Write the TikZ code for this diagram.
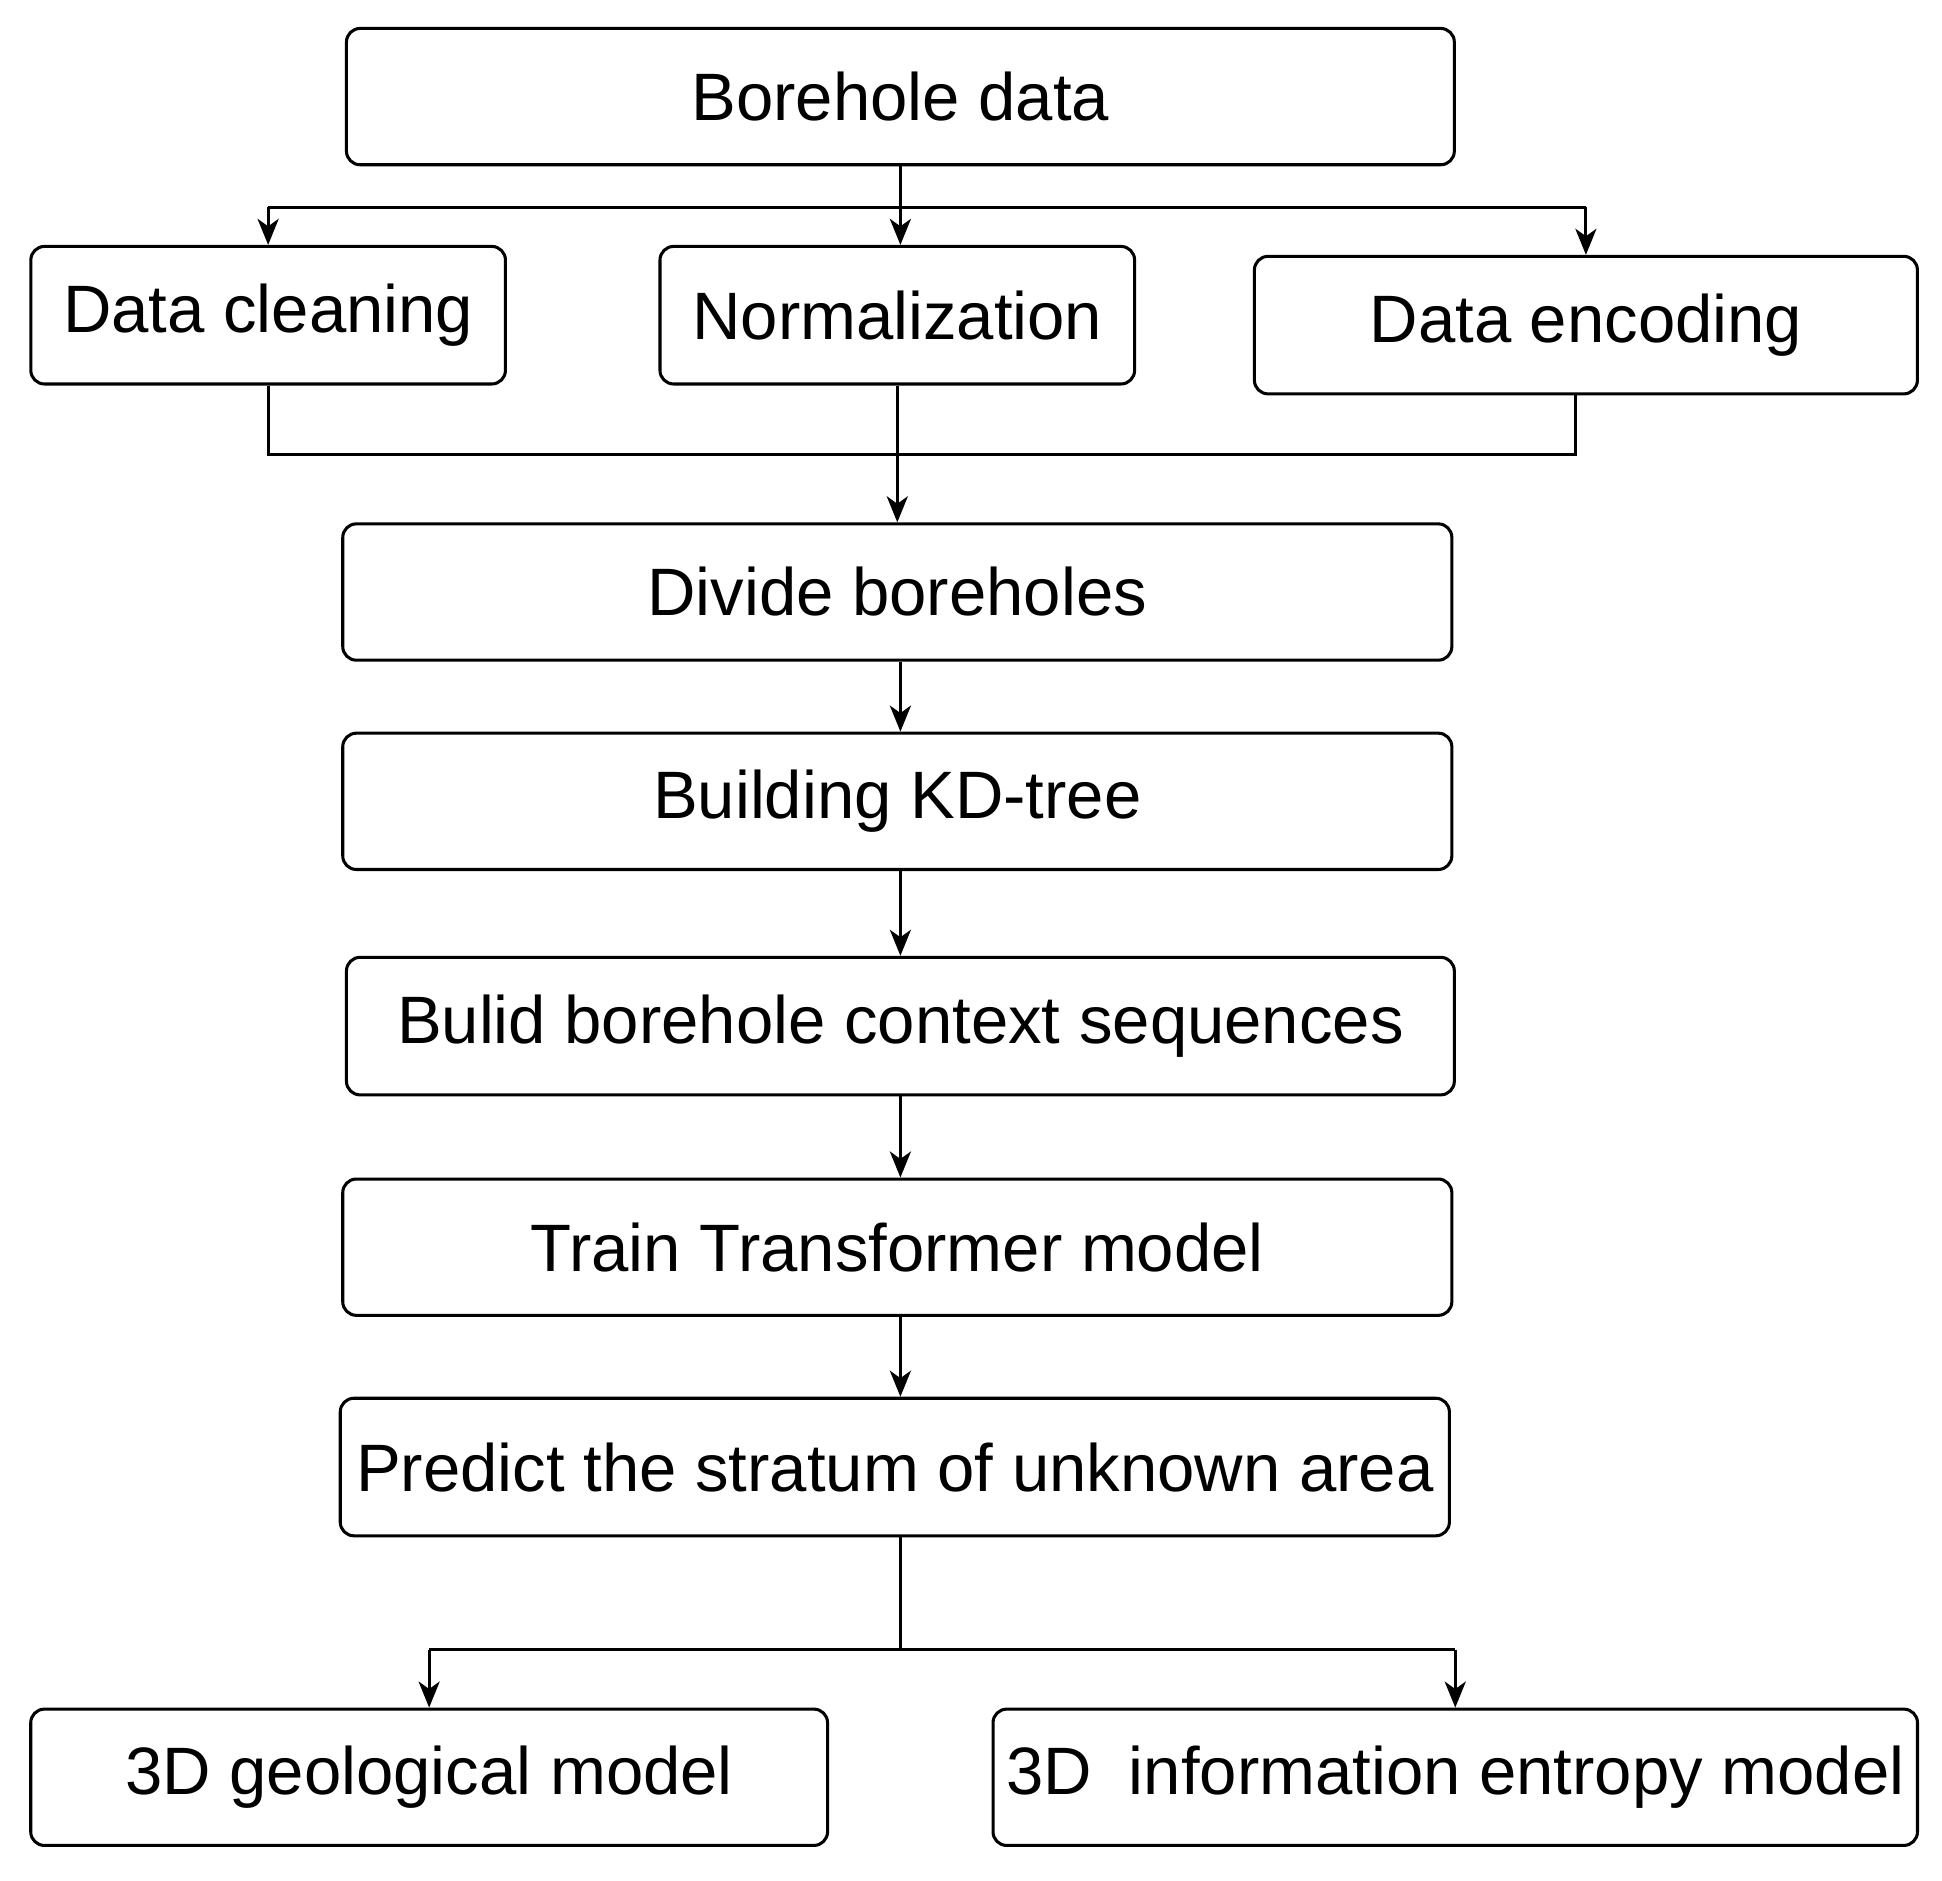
\documentclass[tikz,border=0pt]{standalone}
\usepackage{fontspec}
\setmainfont{Liberation Sans}
\usetikzlibrary{arrows.meta,calc}
\begin{document}
\begin{tikzpicture}[x=0.01cm,y=-0.01cm,
  box/.style={draw,line width=0.7pt,rounded corners=0.11cm,inner sep=0pt,
    font=\fontsize{15.4}{18}\selectfont,anchor=center},
  conn/.style={line width=0.7pt},
  arr/.style={conn,-{Stealth[length=2.1mm,width=1.7mm,inset=0.6mm]}}]
\useasboundingbox (0,0) rectangle (1568,1518);
\node[box,minimum width=8.94cm,minimum height=1.10cm] (b1) at (727,78) {Borehole data};
\node[box,minimum width=3.83cm,minimum height=1.11cm] (b2) at (216.5,254.5) {Data cleaning};
\node[box,minimum width=3.83cm,minimum height=1.11cm] (b3) at (724.5,254.5) {Normalization};
\node[box,minimum width=5.35cm,minimum height=1.11cm] (b4) at (1280.5,262.5) {Data encoding};
\node[box,minimum width=8.95cm,minimum height=1.10cm] (b5) at (724.5,478) {Divide boreholes};
\node[box,minimum width=8.95cm,minimum height=1.10cm] (b6) at (724.5,647) {Building KD-tree};
\node[box,minimum width=8.94cm,minimum height=1.11cm] (b7) at (727,828.5) {Bulid borehole context sequences};
\node[box,minimum width=8.95cm,minimum height=1.10cm] (b8) at (724.5,1007) {Train Transformer model};
\node[box,minimum width=8.95cm,minimum height=1.11cm] (b9) at (722.5,1184.5) {Predict the stratum of unknown area};
\node[box,minimum width=6.43cm,minimum height=1.10cm] (b10) at (346.5,1435) {3D geological model};
\node[box,minimum width=7.46cm,minimum height=1.10cm] (b11) at (1175,1435) {3D\ \ information entropy model};
% split from borehole data
\coordinate (j1) at ($(b1.south)+(0,33)$);
\draw[conn] (b1.south) -- (j1);
\draw[conn] (j1 -| b2.north) -- (j1 -| b4.north);
\draw[arr] (j1 -| b2.north) -- (b2.north);
\draw[arr] (b1.south) -- (b1.south |- b3.north);
\draw[arr] (j1 -| b4.north) -- (b4.north);
% merge
\coordinate (e4) at ([xshift=-0.085cm]b4.south);
\coordinate (j2) at (0,367);
\draw[conn] (b2.south) -- (j2 -| b2.south) -- (j2 -| e4) -- (e4);
\draw[arr] (b3.south) -- (b5.north);
% chain
\draw[arr] (b5.south -| b1.south) -- (b6.north -| b1.south);
\draw[arr] (b6.south -| b1.south) -- (b7.north -| b1.south);
\draw[arr] (b7.south) -- (b8.north -| b7.south);
\draw[arr] (b8.south -| b7.south) -- (b9.north -| b7.south);
% split to models
\coordinate (p9) at ([xshift=0.045cm]b9.south);
\coordinate (j3) at (0,1332);
\draw[conn] (p9) -- (j3 -| p9);
\draw[conn] (j3 -| b10.north) -- (j3 -| b11.north);
\draw[arr] (j3 -| b10.north) -- (b10.north);
\draw[arr] (j3 -| b11.north) -- (b11.north);
\end{tikzpicture}
\end{document}
